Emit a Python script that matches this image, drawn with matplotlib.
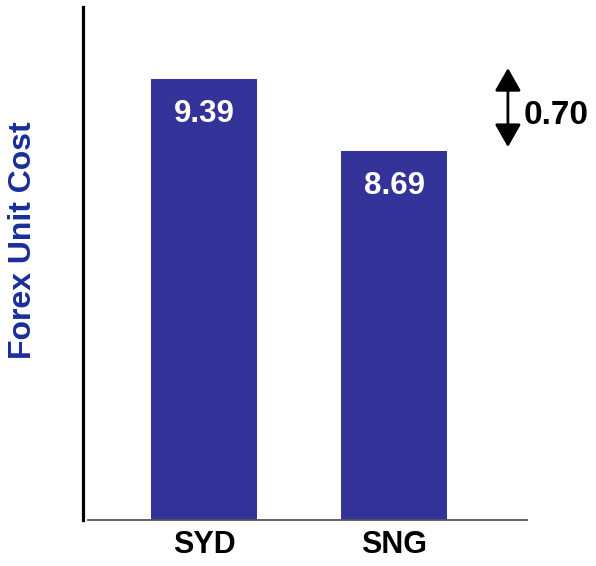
import matplotlib
matplotlib.use("Agg")
import matplotlib.pyplot as plt
from matplotlib.patches import FancyArrowPatch

# Data
sites = ["SYD", "SNG"]
unit_cost = [9.39, 8.69]

bar_color = "#333399"
label_blue = "#1a2e9c"
font = ["Liberation Sans", "DejaVu Sans"]

W, H, DPI = 596, 566, 100
fig = plt.figure(figsize=(W / DPI, H / DPI), dpi=DPI)

# Axes placed in pixel terms: left 83, right 527, top 7, bottom 520
ax_l, ax_r, ax_t, ax_b = 83, 527, 7, 520
ax = fig.add_axes([ax_l / W, 1 - ax_b / H, (ax_r - ax_l) / W, (ax_b - ax_t) / H])

x = list(range(len(sites)))
ax.bar(x, unit_cost, width=0.555, color=bar_color, zorder=2)

ax.set_xlim(-0.637, 1.700)
ax.set_ylim(5.10, 10.09)

# Value labels inside the bars
for xi, v in zip(x, unit_cost):
    ax.annotate(f"{v:.2f}", xy=(xi, v), xytext=(0, -25), textcoords="offset points",
                ha="center", va="center", color="white", fontsize=22.5,
                fontweight="bold", family=font)

# Axis styling
for s in ("top", "right", "bottom"):
    ax.spines[s].set_visible(False)
ax.spines["left"].set_linewidth(2.3)
ax.spines["left"].set_color("black")
ax.axhline(ax.get_ylim()[0], xmin=0.011, xmax=1.0, color="#555555", lw=1.3,
           clip_on=False, zorder=3)

ax.set_yticks([])
ax.set_xticks(x)
ax.set_xticklabels(sites, fontsize=22, fontweight="bold", family=font)
ax.tick_params(axis="x", length=0, pad=7)

fig.text(23 / W, 1 - 240 / H, "Forex Unit Cost", rotation=90, ha="center", va="center",
         fontsize=23, fontweight="bold", color=label_blue, family=font)

# Difference marker
diff = unit_cost[0] - unit_cost[1]
arrow = FancyArrowPatch((0.957, 0.881), (0.957, 0.727), transform=ax.transAxes,
                        arrowstyle="<|-|>,head_length=14,head_width=8",
                        mutation_scale=1, color="black", lw=2.0,
                        shrinkA=0, shrinkB=0, clip_on=False)
ax.add_patch(arrow)
ax.text(0.993, 0.789, f"{diff:.2f}", transform=ax.transAxes, ha="left", va="center",
        fontsize=24, fontweight="bold", color="black", family=font, clip_on=False)

fig.savefig("out.png", dpi=DPI)
